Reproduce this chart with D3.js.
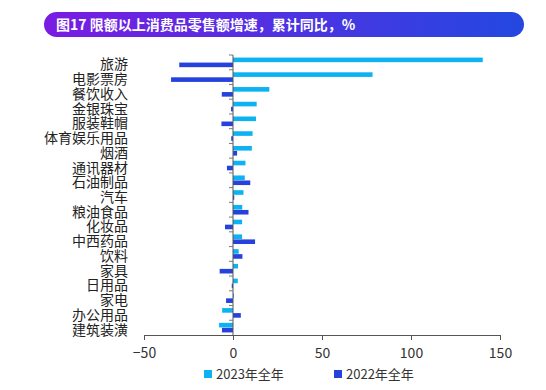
<!DOCTYPE html>
<html>
<head>
<meta charset="utf-8">
<script src="https://cdn.jsdelivr.net/npm/d3@7"></script>
<style>
  body { margin: 0; background: #fff; }
  text { font-family: "Noto Sans CJK SC", "Noto Sans", sans-serif; }
</style>
</head>
<body>
<div id="chart"></div>
<script>
var categories = ['旅游', '电影票房', '餐饮收入', '金银珠宝', '服装鞋帽', '体育娱乐用品', '烟酒',
  '通讯器材', '石油制品', '汽车', '粮油食品', '化妆品', '中西药品', '饮料', '家具', '日用品',
  '家电', '办公用品', '建筑装潢'];
var y2023 = [140.3, 78.4, 20.4, 13.3, 12.9, 11.0, 10.6, 7.0, 6.6, 5.9, 5.2, 5.1, 5.1, 3.2, 2.8, 2.7, 0.5, -6.1, -7.8];
var y2022 = [-30.2, -34.8, -6.3, -1.1, -6.5, -1.0, 2.3, -3.4, 9.7, 0.7, 8.7, -4.5, 12.4, 5.3, -7.5, -0.7, -3.9, 4.4, -6.2];
var xTicks = [-50, 0, 50, 100, 150];
var seriesNames = ['2023年全年', '2022年全年'];
var colors = ['#0cb2f2', '#2642dc'];

var width = 546, height = 390;
var svg = d3.select('#chart').append('svg')
  .attr('width', width)
  .attr('height', height);

// title banner
var defs = svg.append('defs');
var grad = defs.append('linearGradient').attr('id', 'banner')
  .attr('x1', '0%').attr('x2', '100%').attr('y1', '0%').attr('y2', '0%');
grad.append('stop').attr('offset', '0%').attr('stop-color', '#7a1ce2');
grad.append('stop').attr('offset', '100%').attr('stop-color', '#2348e0');

svg.append('rect')
  .attr('x', 44).attr('y', 12)
  .attr('width', 480).attr('height', 25)
  .attr('rx', 12.5)
  .attr('fill', 'url(#banner)');

svg.append('text')
  .attr('x', 56).attr('y', 29.5)
  .attr('fill', '#fff')
  .attr('font-size', 14)
  .attr('font-weight', 'bold')
  .text('图17 限额以上消费品零售额增速，累计同比，%');

var x = d3.scaleLinear().domain([-50, 150]).range([144, 500]);
var y = d3.scaleBand().domain(categories).range([55, 335]);

var bh = 4.6;

var rows = categories.map(function(c, i){ return {cat: c, a: y2023[i], b: y2022[i]}; });

svg.selectAll('.bar23').data(rows).enter().append('rect')
  .attr('class', 'bar23')
  .attr('x', function(d){ return x(Math.min(0, d.a)); })
  .attr('y', function(d){ return y(d.cat) + y.bandwidth()/2 - bh - 0.2; })
  .attr('width', function(d){ return Math.abs(x(d.a) - x(0)); })
  .attr('height', bh)
  .attr('fill', colors[0]);

svg.selectAll('.bar22').data(rows).enter().append('rect')
  .attr('class', 'bar22')
  .attr('x', function(d){ return x(Math.min(0, d.b)); })
  .attr('y', function(d){ return y(d.cat) + y.bandwidth()/2 + 0.2; })
  .attr('width', function(d){ return Math.abs(x(d.b) - x(0)); })
  .attr('height', bh)
  .attr('fill', colors[1]);

// x axis
var xAxis = svg.append('g')
  .attr('transform', 'translate(0,335)')
  .call(d3.axisBottom(x).tickValues(xTicks).tickSize(5).tickPadding(8).tickFormat(d3.format('d')));
xAxis.select('.domain').attr('stroke', '#555');
xAxis.selectAll('.tick line').attr('stroke', '#555');
xAxis.selectAll('.tick text')
  .attr('font-size', 14)
  .attr('fill', '#333')
  .style('font-family', '"Noto Sans CJK SC", "Noto Sans", sans-serif');

// y axis at zero
var yAxis = svg.append('g').attr('transform', 'translate(' + x(0) + ',0)');
yAxis.append('line')
  .attr('x1', 0).attr('x2', 0).attr('y1', 55).attr('y2', 335)
  .attr('stroke', '#555');
var bounds = categories.map(function(c){ return y(c); });
yAxis.selectAll('.ytick').data(bounds).enter().append('line')
  .attr('x1', -4).attr('x2', 0)
  .attr('y1', function(d){ return d; })
  .attr('y2', function(d){ return d; })
  .attr('stroke', '#777');

svg.selectAll('.ylab').data(categories).enter().append('text')
  .attr('class', 'ylab')
  .attr('x', 128)
  .attr('y', function(d){ return y(d) + y.bandwidth()/2 + 7; })
  .attr('text-anchor', 'end')
  .attr('font-size', 14)
  .attr('fill', '#222')
  .text(function(d){ return d; });

// legend
var legendX = [204, 334];
var legend = svg.selectAll('.leg').data(seriesNames).enter().append('g')
  .attr('transform', function(d, i){ return 'translate(' + legendX[i] + ',370)'; });
legend.append('rect')
  .attr('width', 8).attr('height', 8)
  .attr('fill', function(d, i){ return colors[i]; });
legend.append('text')
  .attr('x', 12).attr('y', 8.5)
  .attr('font-size', 13)
  .attr('fill', '#333')
  .text(function(d){ return d; });
</script>
</body>
</html>
